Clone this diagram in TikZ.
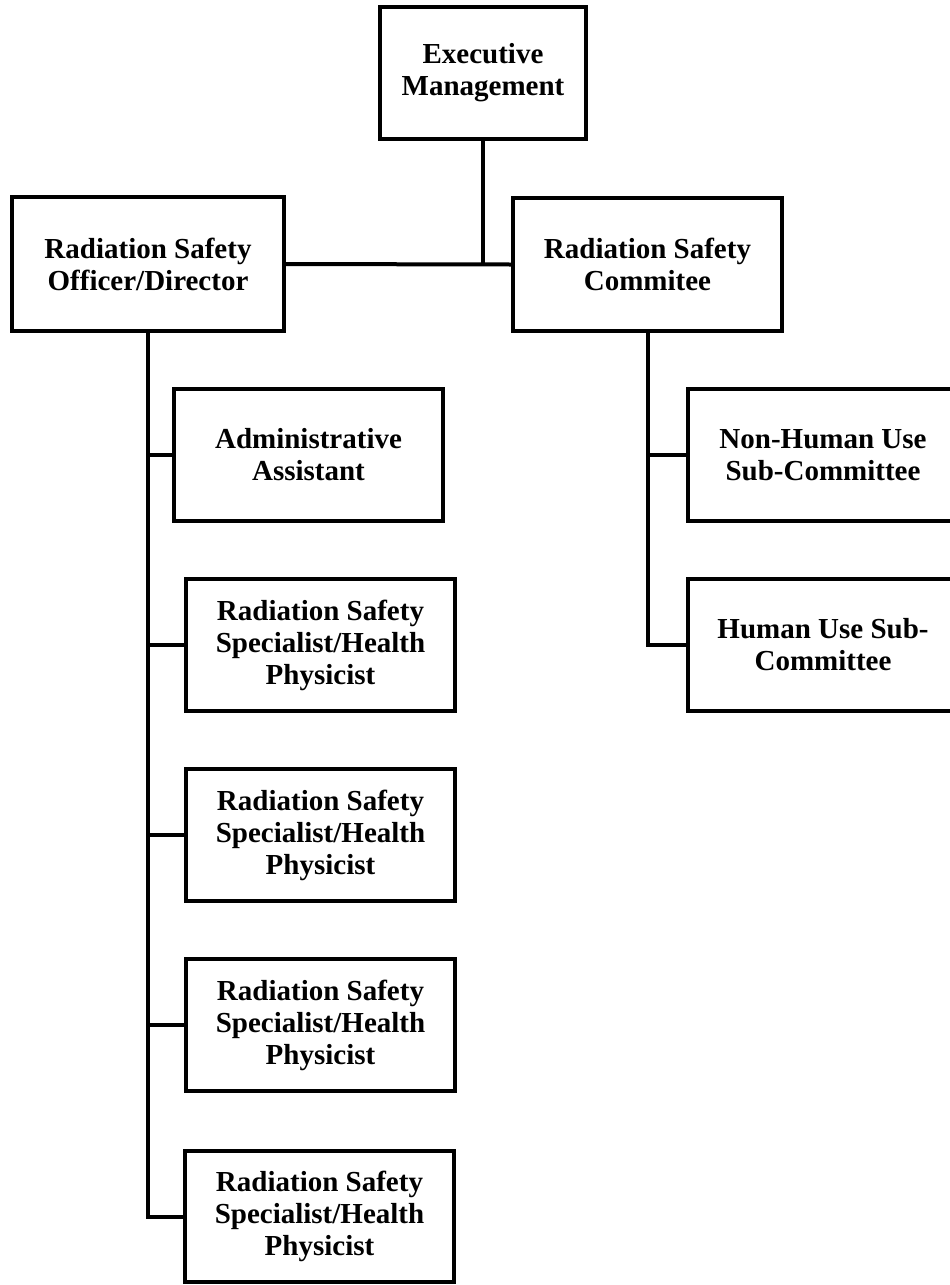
\documentclass[tikz,border=0pt]{standalone}
\usepackage{fontspec}
\setmainfont{Liberation Serif}
\begin{document}
\begin{tikzpicture}[x=1pt,y=-1pt,
  orgbox/.style={draw=black, line width=4pt, fill=white, inner sep=0pt,
    align=center, font=\fontsize{29}{32}\selectfont\bfseries},
  link/.style={draw=black, line width=4pt, line join=miter}]
\useasboundingbox (0,0) rectangle (950,1285);
\fill[white] (0,0) rectangle (950,1285);
\begin{scope}
\clip (0,0) rectangle (950,1285);
\node[orgbox, minimum width=206pt, minimum height=132pt] (exec) at (483,73) {Executive\\Management};
\node[orgbox, minimum width=272pt, minimum height=134pt] (rso) at (148,264) {Radiation Safety\\Officer/Director};
\node[orgbox, minimum width=269pt, minimum height=133pt] (rsc) at (647.5,264.5) {Radiation Safety\\Commitee};
\node[orgbox, minimum width=269pt, minimum height=132pt] (admin) at (308.5,455) {Administrative\\Assistant};
\node[orgbox, minimum width=269pt, minimum height=132pt] (rss1) at (320.5,645) {Radiation Safety\\Specialist/Health\\Physicist};
\node[orgbox, minimum width=269pt, minimum height=132pt] (rss2) at (320.5,835) {Radiation Safety\\Specialist/Health\\Physicist};
\node[orgbox, minimum width=269pt, minimum height=132pt] (rss3) at (320.5,1025) {Radiation Safety\\Specialist/Health\\Physicist};
\node[orgbox, minimum width=269pt, minimum height=131pt] (rss4) at (319.5,1216.5) {Radiation Safety\\Specialist/Health\\Physicist};
\node[orgbox, minimum width=270pt, minimum height=132pt] (nh) at (823,455) {Non-Human Use\\Sub-Committee};
\node[orgbox, minimum width=270pt, minimum height=132pt] (hu) at (823,645) {Human Use Sub-\\Committee};
\path[link] (exec.south) -- (exec.south |- rso.east);
\path[link] (rso.east) -- (rsc.west);
\path[link] (rso.south) -- (rso.south |- rss4.west) -- (rss4.west);
\path[link] (rso.south |- admin.west) -- (admin.west);
\path[link] (rso.south |- rss1.west) -- (rss1.west);
\path[link] (rso.south |- rss2.west) -- (rss2.west);
\path[link] (rso.south |- rss3.west) -- (rss3.west);
\path[link] (rsc.south) -- (rsc.south |- hu.west) -- (hu.west);
\path[link] (rsc.south |- nh.west) -- (nh.west);
\end{scope}
\end{tikzpicture}
\end{document}
